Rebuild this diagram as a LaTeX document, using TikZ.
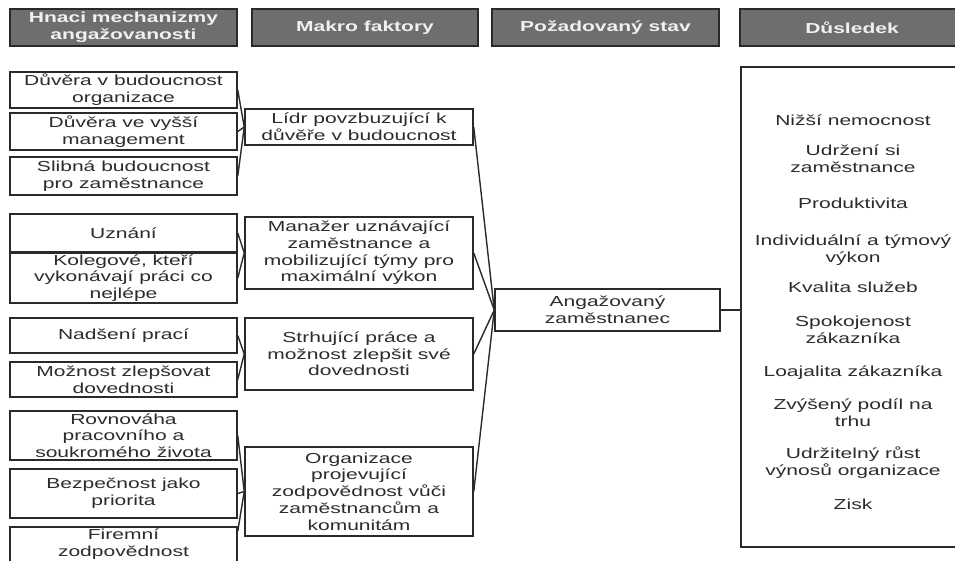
\documentclass[tikz,border=0pt]{standalone}
\usepackage{fontspec}
\setmainfont[FakeStretch=1.45]{Liberation Sans}
\usetikzlibrary{calc}
\definecolor{txt}{HTML}{2C2C2C}
\definecolor{edge}{HTML}{2A2A2A}
\definecolor{hdr}{HTML}{6E6E6E}
\tikzset{
  box/.style={draw=edge, line width=1.5pt, fill=white, align=center, inner sep=0pt,
    text=txt, font=\fontsize{14.5}{16.7}\selectfont},
  hbox/.style={draw=edge, line width=1.6pt, fill=hdr, align=center, inner sep=0pt,
    text=white!94!black, font=\fontsize{14.5}{17}\selectfont\bfseries},
  item/.style={align=center, inner sep=0pt, text=txt, font=\fontsize{14.5}{16.7}\selectfont},
  conn/.style={draw=edge, line width=1.4pt}
}
\begin{document}
\begin{tikzpicture}[x=1pt,y=-1pt]
\useasboundingbox (0,0) rectangle (955,560);
% headers
\node[hbox, minimum width=227pt, minimum height=37pt] (h1) at (123.5,27.5) {Hnaci mechanizmy\\angažovanosti};
\node[hbox, minimum width=226pt, minimum height=37pt] (h2) at (365,27.5) {Makro faktory};
\node[hbox, minimum width=227pt, minimum height=37pt] (h3) at (605.5,27.5) {Požadovaný stav};
\node[hbox, minimum width=224pt, minimum height=37pt] (h4) at (852,27.5) {Důsledek};
% column 1
\node[box, minimum width=227pt, minimum height=36pt] (a1) at (123.5,90) {Důvěra v budoucnost\\organizace};
\node[box, minimum width=227pt, minimum height=37pt] (a2) at (123.5,131.5) {Důvěra ve vyšší\\management};
\node[box, minimum width=227pt, minimum height=38pt] (a3) at (123.5,176) {Slibná budoucnost\\pro zaměstnance};
\node[box, minimum width=227pt, minimum height=38pt] (b1) at (123.5,233) {Uznání};
\node[box, minimum width=227pt, minimum height=50pt] (b2) at (123.5,278) {Kolegové, kteří\\vykonávají práci co\\nejlépe};
\node[box, minimum width=227pt, minimum height=35pt] (c1) at (123.5,335.5) {Nadšení prací};
\node[box, minimum width=227pt, minimum height=35pt] (c2) at (123.5,379.5) {Možnost zlepšovat\\dovednosti};
\node[box, minimum width=227pt, minimum height=49pt] (d1) at (123.5,435.5) {Rovnováha\\pracovního a\\soukromého života};
\node[box, minimum width=227pt, minimum height=49pt] (d2) at (123.5,493.5) {Bezpečnost jako\\priorita};
\node[box, minimum width=227pt, minimum height=35pt] (d3) at (123.5,544.5) {Firemní\\zodpovědnost};
% column 2
\node[box, minimum width=228pt, minimum height=36pt] (m1) at (359,127) {Lídr povzbuzující k\\důvěře v budoucnost};
\node[box, minimum width=228pt, minimum height=72pt] (m2) at (359,253) {Manažer uznávající\\zaměstnance a\\mobilizující týmy pro\\maximální výkon};
\node[box, minimum width=228pt, minimum height=72pt] (m3) at (359,354) {Strhující práce a\\možnost zlepšit své\\dovednosti};
\node[box, minimum width=228pt, minimum height=89pt] (m4) at (359,491.5) {Organizace\\projevující\\zodpovědnost vůči\\zaměstnancům a\\komunitám};
% column 3
\node[box, minimum width=225pt, minimum height=42pt] (ang) at (607.5,310) {Angažovaný\\zaměstnanec};
% column 4
\node[box, minimum width=224pt, minimum height=480pt] (res) at (853,307) {};
\node[item] (r1) at (853,120) {Nižší nemocnost};
\node[item] (r2) at (853,159) {Udržení si\\zaměstnance};
\node[item] (r3) at (853,203) {Produktivita};
\node[item] (r4) at (853,250) {Individuální a týmový\\výkon};
\node[item] (r5) at (853,287) {Kvalita služeb};
\node[item] (r6) at (853,330) {Spokojenost\\zákazníka};
\node[item] (r7) at (853,373) {Loajalita zákazníka};
\node[item] (r8) at (853,413) {Zvýšený podíl na\\trhu};
\node[item] (r9) at (853,463) {Udržitelný růst\\výnosů organizace};
\node[item] (r10) at (853,504) {Zisk};
% connectors
\foreach \s in {a1,a2,a3} \draw[conn] (\s.east) -- (m1.west);
\foreach \s in {b1,b2} \draw[conn] (\s.east) -- (m2.west);
\foreach \s in {c1,c2} \draw[conn] (\s.east) -- (m3.west);
\foreach \s in {d1,d2} \draw[conn] (\s.east) -- (m4.west);
\draw[conn] ($(d3.north east)+(0,5)$) -- (m4.west);
\foreach \s in {m1,m2,m3,m4} \draw[conn] (\s.east) -- (ang.west);
\draw[conn] (ang.east) -- (ang.east -| res.west);
\end{tikzpicture}
\end{document}
